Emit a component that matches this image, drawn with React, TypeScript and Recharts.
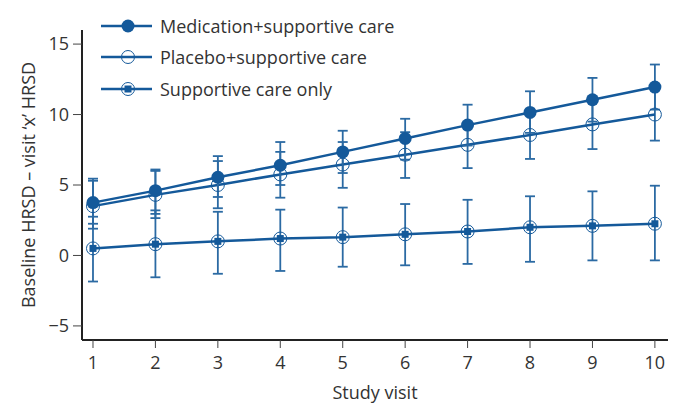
import React from "react";
import {
  LineChart,
  Line,
  XAxis,
  YAxis,
  ErrorBar,
} from "recharts";

const visits = [1, 2, 3, 4, 5, 6, 7, 8, 9, 10];

const medication = [3.75, 4.6, 5.55, 6.4, 7.35, 8.3, 9.25, 10.15, 11.05, 11.95];
const medicationHigh = [5.45, 6.1, 7.05, 8.05, 8.85, 9.7, 10.7, 11.65, 12.6, 13.55];
const medicationLow = [2.25, 2.95, 4.15, 5.0, 5.85, 6.8, 7.8, 8.7, 9.5, 10.35];

const placebo = [3.5, 4.3, 5.0, 5.75, 6.45, 7.15, 7.85, 8.55, 9.3, 10.0];
const placeboHigh = [5.3, 6.0, 6.7, 7.35, 8.05, 8.75, 9.45, 10.2, 11.0, 11.8];
const placeboLow = [1.9, 2.65, 3.35, 4.1, 4.8, 5.5, 6.2, 6.85, 7.55, 8.15];

const supportive = [0.5, 0.8, 1.0, 1.2, 1.3, 1.5, 1.7, 2.0, 2.1, 2.25];
const supportiveHigh = [2.75, 3.2, 3.1, 3.25, 3.4, 3.65, 3.95, 4.2, 4.55, 4.95];
const supportiveLow = [-1.85, -1.55, -1.3, -1.1, -0.8, -0.7, -0.6, -0.45, -0.35, -0.35];

const yTicks = [-5, 0, 5, 10, 15];

const seriesNames = [
  "Medication+supportive care",
  "Placebo+supportive care",
  "Supportive care only",
];

const BLUE = "#14599a";
const ERR = "#2b6aa3";
const FONT = "'Open Sans', 'Noto Sans', sans-serif";

const data = visits.map((v, i) => ({
  visit: v,
  med: medication[i],
  medErr: [medication[i] - medicationLow[i], medicationHigh[i] - medication[i]],
  pla: placebo[i],
  plaErr: [placebo[i] - placeboLow[i], placeboHigh[i] - placebo[i]],
  sup: supportive[i],
  supErr: [supportive[i] - supportiveLow[i], supportiveHigh[i] - supportive[i]],
}));

function FilledDot(props: any) {
  const { cx, cy, index } = props;
  return <circle key={`f${index}`} cx={cx} cy={cy} r={6.5} fill={BLUE} stroke="none" />;
}

function OpenDot(props: any) {
  const { cx, cy, index } = props;
  return (
    <circle key={`o${index}`} cx={cx} cy={cy} r={6.5} fill="none" stroke={BLUE} strokeWidth={1} />
  );
}

function SquareDot(props: any) {
  const { cx, cy, index } = props;
  return (
    <g key={`s${index}`}>
      <circle cx={cx} cy={cy} r={6.5} fill="none" stroke={BLUE} strokeWidth={1} />
      <rect x={cx - 3.5} y={cy - 3.5} width={7} height={7} fill={BLUE} />
    </g>
  );
}

const markers = [FilledDot, OpenDot, SquareDot];

function ChartLegend() {
  return (
    <div style={{ position: "absolute", left: 100, top: 10 }}>
      {seriesNames.map((name, i) => {
        const Marker = markers[i];
        return (
          <div key={name} style={{ display: "flex", alignItems: "center", height: 31.5 }}>
            <svg width={60} height={20}>
              <line x1={1} y1={10} x2={52} y2={10} stroke={BLUE} strokeWidth={2.5} />
              <Marker cx={28} cy={10} index={i} />
            </svg>
            <span style={{ fontFamily: FONT, fontSize: 18, color: "#333" }}>{name}</span>
          </div>
        );
      })}
    </div>
  );
}

export default function App() {
  return (
    <div style={{ position: "absolute", left: 0, top: 0, width: 683, height: 418, background: "#fff" }}>
      <LineChart
        width={683}
        height={418}
        data={data}
        margin={{ top: 30, right: 15, bottom: 0, left: 0 }}
      >
        <XAxis
          dataKey="visit"
          type="number"
          domain={[0.824, 10.21]}
          ticks={visits}
          allowDataOverflow
          height={78}
          tickSize={8}
          tickMargin={8}
          stroke="#222"
          strokeWidth={2}
          tick={{ fill: "#333", fontSize: 18, fontFamily: FONT }}
          tickLine={{ stroke: "#444", strokeWidth: 1 }}
          label={{
            value: "Study visit",
            position: "insideBottom",
            offset: 19,
            fill: "#333",
            fontSize: 18,
            fontFamily: FONT,
          }}
        />
        <YAxis
          type="number"
          domain={[-6, 16]}
          ticks={yTicks}
          allowDataOverflow
          width={82}
          tickSize={9}
          tickMargin={4}
          stroke="#222"
          strokeWidth={2}
          tick={{ fill: "#333", fontSize: 18, fontFamily: FONT }}
          tickLine={{ stroke: "#444", strokeWidth: 1 }}
          tickFormatter={(v: number) => (v < 0 ? `\u2212${Math.abs(v)}` : `${v}`)}
          label={{
            value: "Baseline HRSD \u2013 visit \u2018x\u2019 HRSD",
            angle: -90,
            position: "insideLeft",
            offset: 29,
            fill: "#333",
            fontSize: 18,
            fontFamily: FONT,
            style: { textAnchor: "middle" },
          }}
        />
        <Line
          dataKey="sup"
          stroke={BLUE}
          strokeWidth={2.5}
          dot={SquareDot}
          activeDot={false}
          isAnimationActive={false}
        >
          <ErrorBar dataKey="supErr" width={5} stroke={ERR} strokeWidth={1.8} direction="y" />
        </Line>
        <Line
          dataKey="pla"
          stroke={BLUE}
          strokeWidth={2.5}
          dot={OpenDot}
          activeDot={false}
          isAnimationActive={false}
        >
          <ErrorBar dataKey="plaErr" width={5} stroke={ERR} strokeWidth={1.8} direction="y" />
        </Line>
        <Line
          dataKey="med"
          stroke={BLUE}
          strokeWidth={2.5}
          dot={FilledDot}
          activeDot={false}
          isAnimationActive={false}
        >
          <ErrorBar dataKey="medErr" width={5} stroke={ERR} strokeWidth={1.8} direction="y" />
        </Line>
      </LineChart>
      <ChartLegend />
    </div>
  );
}
